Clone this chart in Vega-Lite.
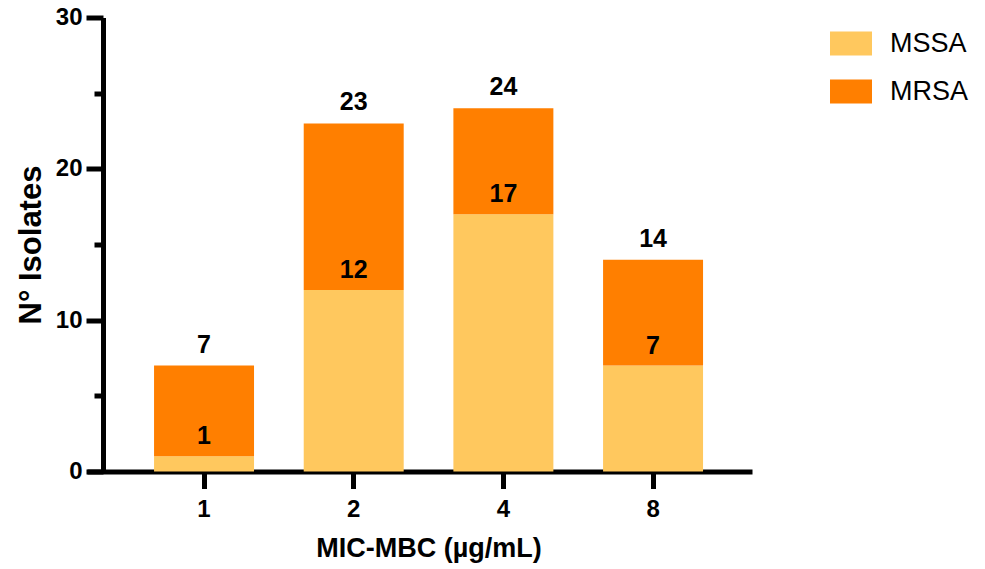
{
  "$schema": "https://vega.github.io/schema/vega-lite/v6.json",
  "width": 665,
  "height": 454,
  "autosize": "none",
  "padding": {"left": 87, "top": 17.5, "right": 233, "bottom": 97.5},
  "background": "white",
  "config": {"view": {"stroke": null}, "font": "Liberation Sans"},
  "data": {"values": [
    {"mic": "1", "series": "MSSA", "count": 1},
    {"mic": "1", "series": "MRSA", "count": 6},
    {"mic": "2", "series": "MSSA", "count": 12},
    {"mic": "2", "series": "MRSA", "count": 11},
    {"mic": "4", "series": "MSSA", "count": 17},
    {"mic": "4", "series": "MRSA", "count": 7},
    {"mic": "8", "series": "MSSA", "count": 7},
    {"mic": "8", "series": "MRSA", "count": 7}
  ]},
  "layer": [
    {
      "mark": {"type": "bar"},
      "encoding": {
        "x": {"field": "mic", "type": "nominal", "sort": ["1", "2", "4", "8"],
          "scale": {"paddingInner": 0.332, "paddingOuter": 0.3875, "align": 0.578},
          "axis": {"title": "MIC-MBC (µg/mL)", "labelAngle": 0, "domainColor": "black", "domainWidth": 5,
            "tickColor": "black", "tickWidth": 5, "tickSize": 17, "labelFont": "Liberation Sans",
            "labelFontSize": 24, "labelFontWeight": "bold", "labelColor": "black", "labelPadding": 9,
            "titleFont": "Liberation Sans", "titleFontSize": 27, "titleFontWeight": "bold", "titleColor": "black",
            "titlePadding": 14, "titleX": 341.5}},
        "y": {"field": "count", "type": "quantitative", "stack": "zero",
          "scale": {"domain": [0, 30], "nice": false},
          "axis": {"values": [0, 10, 20, 30], "orient": "left", "title": "N° Isolates", "grid": false, "offset": -16,
            "domainColor": "black", "domainWidth": 5, "tickColor": "black", "tickWidth": 5, "tickSize": 17,
            "labelFont": "Liberation Sans", "labelFontSize": 24, "labelFontWeight": "bold", "labelColor": "black",
            "labelPadding": 4, "titleFont": "Liberation Sans", "titleFontSize": 31, "titleFontWeight": "bold",
            "titleColor": "black", "titlePadding": 8}},
        "color": {"field": "series", "type": "nominal",
          "scale": {"domain": ["MSSA", "MRSA"], "range": ["#FFC85E", "#FF7F00"]},
          "legend": {"orient": "none", "legendX": 743, "legendY": 5, "title": null,
            "symbolType": "M-1,-0.571H1V0.571H-1Z", "symbolSize": 1764, "symbolStrokeWidth": 0,
            "labelFontSize": 27, "labelFont": "Liberation Sans", "labelColor": "black", "labelOffset": 18,
            "rowPadding": 14, "padding": 0}},
        "order": {"field": "series", "sort": "descending"}
      }
    },
    {
      "transform": [{"filter": "datum.series == 'MSSA'"}],
      "mark": {"type": "text", "dy": -20, "fontSize": 25, "fontWeight": "bold", "font": "Liberation Sans", "color": "black", "baseline": "middle"},
      "encoding": {
        "x": {"field": "mic", "type": "nominal", "sort": ["1", "2", "4", "8"]},
        "y": {"field": "count", "type": "quantitative", "axis": null},
        "text": {"field": "count", "type": "quantitative"}
      }
    },
    {
      "transform": [{"aggregate": [{"op": "sum", "field": "count", "as": "total"}], "groupby": ["mic"]}],
      "mark": {"type": "text", "dy": -21, "fontSize": 25, "fontWeight": "bold", "font": "Liberation Sans", "color": "black", "baseline": "middle"},
      "encoding": {
        "x": {"field": "mic", "type": "nominal", "sort": ["1", "2", "4", "8"]},
        "y": {"field": "total", "type": "quantitative",
          "axis": {"values": [5, 15, 25], "orient": "left", "title": null, "labels": false, "domain": false,
            "grid": false, "offset": -16, "tickColor": "black", "tickWidth": 5, "tickSize": 9}},
        "text": {"field": "total", "type": "quantitative"}
      }
    }
  ],
  "resolve": {"axis": {"y": "independent"}}
}
